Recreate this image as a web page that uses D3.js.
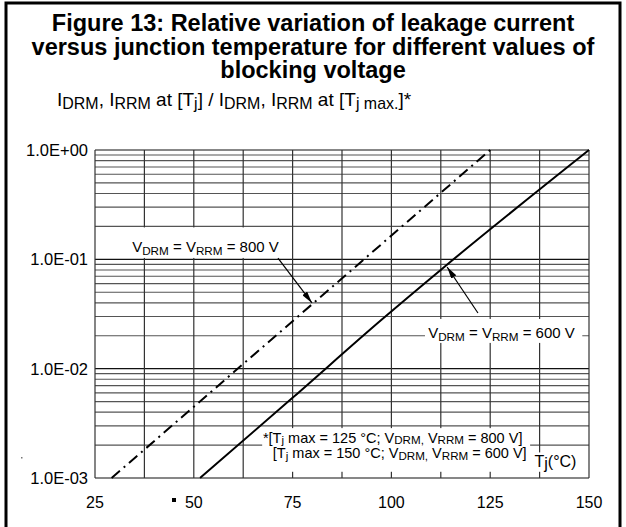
<!DOCTYPE html>
<html><head><meta charset="utf-8">
<script src="https://cdn.jsdelivr.net/npm/d3@7"></script>
<style>
body{margin:0;background:#fff}
svg{display:block;font-family:"Liberation Sans",Arial,Helvetica,sans-serif}
</style>
</head><body>
<svg id="c" width="626" height="527"></svg>
<script>
// ---- data ----
const xTicks = [25, 37.5, 50, 62.5, 75, 87.5, 100, 112.5, 125, 137.5, 150];
const xLabels = [25, 50, 75, 100, 125, 150];
const yDecades = [1e-3, 1e-2, 1e-1, 1];
const yLabels = ["1.0E-03", "1.0E-02", "1.0E-01", "1.0E+00"];
const tj800 = [29.2, 80, 125];
const ratio800 = [0.001, 0.039, 1];
const tj600 = [51.6, 75.2, 97.5, 113.0, 150];
const ratio600 = [0.001, 0.0055, 0.028, 0.083, 1];
const titleLines = ["Figure 13: Relative variation of leakage current",
                    "versus junction temperature for different values of",
                    "blocking voltage"];

// ---- setup ----
const svg = d3.select("#c");
const W = 626, H = 527;
const x = d3.scaleLinear().domain([25, 150]).range([95, 589]);
const y = d3.scaleLog().domain([1e-3, 1]).range([478, 150]);

// outer frame
svg.append("path").attr("d", `M6,${H+10} V3 H620 V${H+10}`)
  .attr("fill", "none").attr("stroke", "#000").attr("stroke-width", 3);

// title
svg.append("g").selectAll("text").data(titleLines).join("text")
  .attr("x", 313).attr("y", (d, i) => 31 + i * 23.5)
  .attr("text-anchor", "middle").style("font-weight", "bold").style("font-size", "23.5px")
  .text(d => d);

function rich(g, px, py, parts, size, subScale, shift) {
  const t = g.append("text").attr("x", px).attr("y", py).style("font-size", size + "px");
  let cur = 0;
  parts.forEach(([s, sub]) => {
    const target = sub ? shift : 0;
    const ts = t.append("tspan").text(s).attr("dy", target - cur);
    if (sub) ts.style("font-size", (size * subScale) + "px");
    cur = target;
  });
  return t;
}

// subtitle
rich(svg, 57, 106, [["I"], ["DRM", 1], [", I"], ["RRM", 1], [" at [T"], ["j", 1], ["] / I"], ["DRM", 1], [", I"], ["RRM", 1], [" at [T"], ["j max.", 1], ["]*"]], 19, 0.84, 3);

// grid
const grid = svg.append("g");
const minor = [];
yDecades.slice(0, 3).forEach(d => { for (let k = 2; k <= 9; k++) minor.push(d * k); });
grid.selectAll("line.mn").data(minor).join("line")
  .attr("x1", x(25)).attr("x2", x(150)).attr("y1", d => y(d)).attr("y2", d => y(d))
  .attr("stroke", "#555").attr("stroke-width", 1.1);
grid.selectAll("line.mj").data(yDecades).join("line")
  .attr("x1", x(25)).attr("x2", x(150)).attr("y1", d => y(d)).attr("y2", d => y(d))
  .attr("stroke", "#111").attr("stroke-width", 1.2);
grid.selectAll("line.v").data(xTicks).join("line")
  .attr("x1", d => x(d)).attr("x2", d => x(d)).attr("y1", y(1)).attr("y2", y(1e-3))
  .attr("stroke", "#333").attr("stroke-width", 1.2);

// axis labels
svg.append("g").selectAll("text").data(yDecades).join("text")
  .attr("x", 88).attr("y", d => y(d) + 6).attr("text-anchor", "end")
  .style("font-size", "16.5px").text((d, i) => yLabels[i]);
svg.append("g").selectAll("text").data(xLabels).join("text")
  .attr("x", d => x(d)).attr("y", 508).attr("text-anchor", "middle")
  .style("font-size", "16px").text(d => d);

// white label boxes (covering grid)
const boxes = [
  [33.1, 72.6, 0.2, 0.103],
  [108.5, 148.3, 0.0291, 0.0172],
  [67.3, 135.1, 0.00292, 0.00114],
  [135.8, 149.3, 0.00175, 0.00114]
];
svg.append("g").selectAll("rect").data(boxes).join("rect")
  .attr("x", d => x(d[0])).attr("width", d => x(d[1]) - x(d[0]))
  .attr("y", d => y(d[2]) + 1).attr("height", d => y(d[3]) - y(d[2]) - 1)
  .attr("fill", "#fff");

// curves
const line = d3.line().x(d => x(d[0])).y(d => y(d[1]));
svg.append("path").datum(tj800.map((t, i) => [t, ratio800[i]]))
  .attr("d", line).attr("fill", "none").attr("stroke", "#000").attr("stroke-width", 2)
  .attr("stroke-dasharray", "11,5,2,5");
svg.append("path").datum(tj600.map((t, i) => [t, ratio600[i]]))
  .attr("d", line.curve(d3.curveMonotoneX)).attr("fill", "none").attr("stroke", "#000").attr("stroke-width", 2);

// arrows
svg.append("defs").append("marker").attr("id", "ah").attr("viewBox", "0 0 12 6")
  .attr("refX", 12).attr("refY", 3).attr("markerWidth", 12).attr("markerHeight", 6)
  .attr("markerUnits", "userSpaceOnUse").attr("orient", "auto")
  .append("path").attr("d", "M0,0 L12,3 L0,6 Z").attr("fill", "#000");
const arrows = [[71.3, 0.1028, 79.9, 0.0399], [121.9, 0.0323, 114.1, 0.0851]];
svg.append("g").selectAll("line").data(arrows).join("line")
  .attr("x1", d => x(d[0])).attr("y1", d => y(d[1])).attr("x2", d => x(d[2])).attr("y2", d => y(d[3]))
  .attr("stroke", "#000").attr("stroke-width", 1.2).attr("marker-end", "url(#ah)");

// annotations
const ann = svg.append("g");
rich(ann, x(34.4), y(0.1167), [["V"], ["DRM", 1], [" = V"], ["RRM", 1], [" = 800 V"]], 15, 0.78, 3);
rich(ann, x(109.3), y(0.0191), [["V"], ["DRM", 1], [" = V"], ["RRM", 1], [" = 600 V"]], 15, 0.78, 3);
rich(ann, x(67.5), y(0.00211), [["*[T"], ["j", 1], [" max = 125 °C; V"], ["DRM,", 1], [" V"], ["RRM", 1], [" = 800 V]"]], 14.5, 0.8, 1.5);
rich(ann, x(70.0), y(0.00151), [["[T"], ["j", 1], [" max = 150 °C; V"], ["DRM,", 1], [" V"], ["RRM", 1], [" = 600 V]"]], 14.5, 0.8, 1.5);
rich(ann, x(136.2), y(0.00125), [["T"], ["j", 1], ["(°C)"]], 16, 1, 2);

// scan specks
svg.append("rect").attr("x", 172).attr("y", 498).attr("width", 4).attr("height", 4).attr("fill", "#000");
svg.append("rect").attr("x", 21).attr("y", 457).attr("width", 1.5).attr("height", 1.5).attr("fill", "#777");
</script>
</body></html>
